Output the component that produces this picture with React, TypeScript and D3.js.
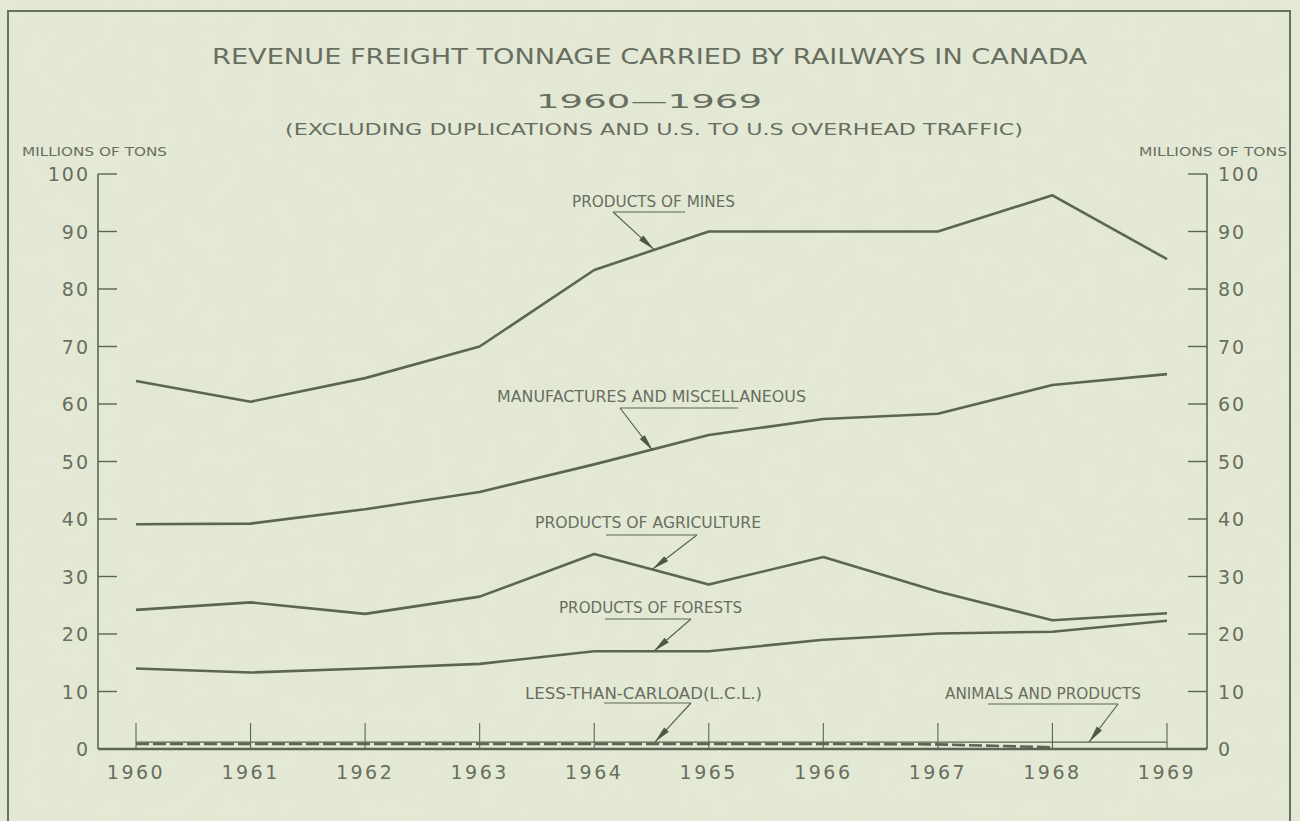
import { useRef, useEffect } from "react";
import * as d3 from "d3";

// values, millions of tons
const years = [1960, 1961, 1962, 1963, 1964, 1965, 1966, 1967, 1968, 1969];
const mines = [64, 60.4, 64.5, 70, 83.3, 90, 90, 90, 96.3, 85.2];
const manufactures = [39.1, 39.2, 41.7, 44.7, 49.5, 54.6, 57.4, 58.3, 63.3, 65.2];
const agriculture = [24.2, 25.5, 23.5, 26.5, 33.9, 28.6, 33.4, 27.4, 22.4, 23.6];
const forests = [14, 13.3, 14, 14.8, 17, 17, 19, 20.1, 20.4, 22.3];
const lcl = [0.9, 0.9, 0.9, 0.9, 0.9, 0.9, 0.9, 0.8, 0.3];
const animals = [1.2, 1.2, 1.2, 1.2, 1.2, 1.2, 1.2, 1.2, 1.2, 1.2];
const yTicks = [0, 10, 20, 30, 40, 50, 60, 70, 80, 90, 100];

const INK = "#5c6453";
const TEXT = "#686e60";
const PAPER = "#e4e9d6";

type Note = {
  label: string;
  tipYear: number;
  tipValue: number;
  tx: number; ty: number; tw: number;
  ux1: number; ux2: number; uy: number;
  fromRight: boolean;
};

const notes: Note[] = [
  { label: "PRODUCTS OF MINES", tipYear: 1964.52, tipValue: 86.9, tx: 572, ty: 207, tw: 163, ux1: 613, ux2: 685, uy: 212, fromRight: false },
  { label: "MANUFACTURES AND MISCELLANEOUS", tipYear: 1964.51, tipValue: 51.9, tx: 497, ty: 402, tw: 309, ux1: 620, ux2: 738, uy: 408, fromRight: false },
  { label: "PRODUCTS OF AGRICULTURE", tipYear: 1964.51, tipValue: 31.3, tx: 535, ty: 528, tw: 226, ux1: 606, ux2: 697, uy: 535, fromRight: true },
  { label: "PRODUCTS OF FORESTS", tipYear: 1964.52, tipValue: 17.0, tx: 559, ty: 613, tw: 183, ux1: 605, ux2: 691, uy: 619, fromRight: true },
  { label: "LESS-THAN-CARLOAD(L.C.L.)", tipYear: 1964.53, tipValue: 1.2, tx: 525, ty: 699, tw: 237, ux1: 604, ux2: 691, uy: 703, fromRight: true },
  { label: "ANIMALS AND PRODUCTS", tipYear: 1968.32, tipValue: 1.2, tx: 945, ty: 699, tw: 196, ux1: 988, ux2: 1118, uy: 704, fromRight: true },
];

const App = () => {
  const svgRef = useRef<SVGSVGElement | null>(null);

  useEffect(() => {
    if (!svgRef.current) return;
    const width = 1300;
    const height = 821;
    const font = "'DejaVu Sans', 'Liberation Sans', sans-serif";

    const svg = d3.select(svgRef.current);
    svg.selectAll("*").remove();
    svg.attr("width", width).attr("height", height).attr("viewBox", [0, 0, width, height]);

    // paper texture
    const defs = svg.append("defs");
    const f = defs.append("filter").attr("id", "paper").attr("x", 0).attr("y", 0).attr("width", "100%").attr("height", "100%");
    f.append("feTurbulence").attr("type", "fractalNoise").attr("baseFrequency", 0.04).attr("numOctaves", 3).attr("seed", 4);
    f.append("feColorMatrix").attr("type", "matrix")
      .attr("values", "0 0 0 0 0.6  0 0 0 0 0.63  0 0 0 0 0.55  0 0 0 0.9 -0.38");

    svg.append("rect").attr("width", width).attr("height", height).attr("fill", PAPER);
    svg.append("rect").attr("width", width).attr("height", height).attr("filter", "url(#paper)").attr("opacity", 0.2);

    // frame
    svg.append("rect").attr("x", 8).attr("y", 11).attr("width", 1282).attr("height", 830)
      .attr("fill", "none").attr("stroke", "#6a7062").attr("stroke-width", 2);

    const x = d3.scaleLinear().domain([1960, 1969]).range([136, 1167]);
    const y = d3.scaleLinear().domain([0, 100]).range([749, 174]);
    const xl = 98, xr = 1207;

    // titles
    const title = svg.append("g").attr("fill", TEXT).attr("font-family", font);
    title.append("text").attr("x", 212).attr("y", 64).attr("font-size", 21)
      .attr("textLength", 875).attr("lengthAdjust", "spacingAndGlyphs")
      .text("REVENUE FREIGHT TONNAGE CARRIED BY RAILWAYS IN CANADA");
    title.append("text").attr("x", 536).attr("y", 108).attr("font-size", 20)
      .attr("textLength", 226).attr("lengthAdjust", "spacingAndGlyphs")
      .text("1960\u20141969");
    title.append("text").attr("x", 285).attr("y", 135).attr("font-size", 16.5)
      .attr("textLength", 738).attr("lengthAdjust", "spacingAndGlyphs")
      .text("(EXCLUDING DUPLICATIONS AND U.S. TO U.S OVERHEAD TRAFFIC)");
    title.append("text").attr("x", 22).attr("y", 156).attr("font-size", 12)
      .attr("textLength", 145).attr("lengthAdjust", "spacingAndGlyphs").text("MILLIONS OF TONS");
    title.append("text").attr("x", 1139).attr("y", 156).attr("font-size", 12)
      .attr("textLength", 148).attr("lengthAdjust", "spacingAndGlyphs").text("MILLIONS OF TONS");

    // axes
    const axes = svg.append("g").attr("stroke", INK).attr("fill", "none");
    axes.append("line").attr("x1", xl).attr("x2", xl).attr("y1", y(100)).attr("y2", y(0)).attr("stroke-width", 1.6);
    axes.append("line").attr("x1", xr).attr("x2", xr).attr("y1", y(100)).attr("y2", y(0)).attr("stroke-width", 1.6);
    axes.selectAll(".lt").data(yTicks.filter((d) => d > 0)).join("line")
      .attr("x1", xl).attr("x2", xl + 19).attr("y1", (d) => y(d)).attr("y2", (d) => y(d)).attr("stroke-width", 1.4);
    axes.selectAll(".rt").data(yTicks.filter((d) => d > 0)).join("line")
      .attr("x1", xr - 19).attr("x2", xr).attr("y1", (d) => y(d)).attr("y2", (d) => y(d)).attr("stroke-width", 1.4);
    axes.selectAll(".xt").data(years).join("line")
      .attr("x1", (d) => x(d)).attr("x2", (d) => x(d)).attr("y1", y(0)).attr("y2", y(0) - 26).attr("stroke-width", 1.1);

    const labels = svg.append("g").attr("fill", TEXT).attr("font-family", font).attr("font-size", 19);
    labels.selectAll(".ll").data(yTicks).join("text")
      .attr("x", 90).attr("y", (d) => y(d) + 7).attr("text-anchor", "end")
      .attr("letter-spacing", 2).text((d) => String(d));
    labels.selectAll(".rl").data(yTicks).join("text")
      .attr("x", 1218).attr("y", (d) => y(d) + 7).attr("letter-spacing", 2).text((d) => String(d));
    labels.selectAll(".yl").data(years).join("text")
      .attr("x", (d) => x(d)).attr("y", 779).attr("text-anchor", "middle")
      .attr("letter-spacing", 2.5).text((d) => String(d));

    // series
    const line = d3.line<number>().x((_, i) => x(years[i])).y((d) => y(d));
    const series = svg.append("g").attr("fill", "none").attr("stroke", INK).attr("stroke-linejoin", "round");
    [mines, manufactures, agriculture, forests].forEach((s) => {
      series.append("path").attr("d", line(s)).attr("stroke-width", 2.6);
    });
    series.append("path").attr("d", line(animals)).attr("stroke-width", 1.4);
    series.append("path").attr("d", line(lcl)).attr("stroke-width", 2.6).attr("stroke-dasharray", "13 4");

    // baseline
    svg.append("line").attr("x1", xl).attr("x2", xr).attr("y1", y(0)).attr("y2", y(0))
      .attr("stroke", INK).attr("stroke-width", 2.6);

    // annotations
    const ann = svg.append("g");
    notes.forEach((n) => {
      const tx = x(n.tipYear), ty = y(n.tipValue);
      const sx = n.fromRight ? n.ux2 : n.ux1;
      ann.append("text").attr("x", n.tx).attr("y", n.ty).attr("font-family", font).attr("font-size", 15)
        .attr("fill", TEXT).attr("textLength", n.tw).attr("lengthAdjust", "spacingAndGlyphs").text(n.label);
      ann.append("line").attr("x1", n.ux1).attr("x2", n.ux2).attr("y1", n.uy).attr("y2", n.uy)
        .attr("stroke", INK).attr("stroke-width", 1.2);
      ann.append("line").attr("x1", sx).attr("y1", n.uy).attr("x2", tx).attr("y2", ty)
        .attr("stroke", INK).attr("stroke-width", 1.2);
      const ang = Math.atan2(ty - n.uy, tx - sx);
      const len = 17, hw = 3.2;
      const bx = tx - len * Math.cos(ang), by = ty - len * Math.sin(ang);
      const px = -Math.sin(ang) * hw, py = Math.cos(ang) * hw;
      ann.append("path")
        .attr("d", `M${tx},${ty}L${bx + px},${by + py}L${bx - px},${by - py}Z`)
        .attr("fill", "#4f5747");
    });
  }, []);

  return <svg ref={svgRef} style={{ position: "absolute", left: 0, top: 0, display: "block" }}></svg>;
};

export default App;
